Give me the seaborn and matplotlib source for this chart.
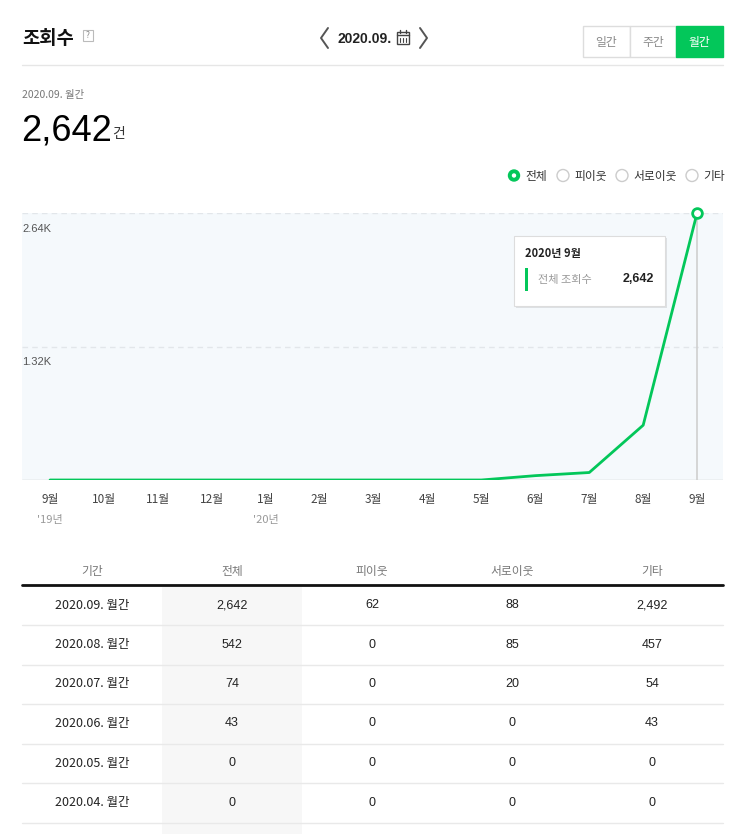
import numpy as np
import pandas as pd
import matplotlib
matplotlib.use("Agg")
import matplotlib.pyplot as plt
import matplotlib.patches as mpatches
import matplotlib.transforms as mtransforms
import seaborn as sns

# ---- data ----
months = ["9월", "10월", "11월", "12월", "1월", "2월", "3월", "4월", "5월", "6월", "7월", "8월", "9월"]
year_marks = {0: "'19년", 4: "'20년"}
total_views = [0, 0, 0, 0, 0, 0, 0, 0, 0, 43, 74, 542, 2642]
y_ticks = [1320, 2640]
y_tick_labels = ["1.32K", "2.64K"]

table_header = ["기간", "전체", "피이웃", "서로이웃", "기타"]
table_periods = ["2020.09. 월간", "2020.08. 월간", "2020.07. 월간",
                 "2020.06. 월간", "2020.05. 월간", "2020.04. 월간"]
table_total = ["2,642", "542", "74", "43", "0", "0"]
table_neighbor = ["62", "0", "0", "0", "0", "0"]
table_mutual = ["88", "85", "20", "0", "0", "0"]
table_other = ["2,492", "457", "54", "43", "0", "0"]

legend_items = ["전체", "피이웃", "서로이웃", "기타"]
period_buttons = ["일간", "주간", "월간"]

GREEN = "#03c75a"
KR = ["Noto Sans CJK KR", "DejaVu Sans"]
NUM = ["Liberation Sans", "Noto Sans CJK KR", "DejaVu Sans"]

sns.set_style("white")
plt.rcParams["font.family"] = KR

W, H = 743, 834
fig = plt.figure(figsize=(W / 100, H / 100), dpi=100)
fig.patch.set_facecolor("white")

# ---- chart ----
left, right, top_y, base_y = 22, 723, 213, 480
ax = fig.add_axes([left / W, (H - base_y) / H, (right - left) / W, (base_y - top_y) / H])
ax.set_facecolor("#f5f9fc")
df = pd.DataFrame({"idx": np.arange(len(months)), "views": total_views})
ax.axhline(0, color="#cccccc", lw=1, zorder=1)
for v in y_ticks:
    ax.axhline(v, color="#e2e6ea", lw=1, ls=(0, (4, 3)), zorder=1)
ax.vlines(df["idx"].iloc[-1], 0, df["views"].iloc[-1], color="#cfcfcf", lw=1.2, zorder=2)
sns.lineplot(data=df, x="idx", y="views", color=GREEN, lw=2, ax=ax, zorder=3)
ax.plot(df["idx"].iloc[-1], df["views"].iloc[-1], "o", ms=7, mfc="white", mec=GREEN,
        mew=2, zorder=4, clip_on=False)
ax.set_xlim(-0.52, 12.48)
ax.set_ylim(0, 2640)
ax.set_xticks(df["idx"])
ax.set_xticklabels(months, fontsize=8.5, color="#444444", family=KR)
ax.tick_params(axis="x", length=0, pad=9)
ax.set_yticks([])
ax.set_xlabel("")
ax.set_ylabel("")
for s in ax.spines.values():
    s.set_visible(False)
ytr = mtransforms.blended_transform_factory(ax.transAxes, ax.transData)
for v, lab in zip(y_ticks, y_tick_labels):
    ax.text(0.0, v - 105, lab, transform=ytr, ha="left", va="top", fontsize=8,
            color="#555555", family=NUM)
xtr = mtransforms.blended_transform_factory(ax.transData, ax.transAxes)
for i, lab in year_marks.items():
    ax.text(i, -0.13, lab, transform=xtr, ha="center", va="top", fontsize=8,
            color="#999999", family=KR, clip_on=False)

# ---- overlay for page elements (pixel coords) ----
ov = fig.add_axes([0, 0, 1, 1], facecolor="none")
ov.set_xlim(0, W)
ov.set_ylim(H, 0)
ov.axis("off")

# header
ov.text(22, 38, "조회수", fontsize=13.5, fontweight="bold", color="#111111", va="center")
ov.add_patch(mpatches.Rectangle((83, 30), 10, 11, fill=False, ec="#bbbbbb", lw=0.8))
ov.text(88, 35.5, "?", fontsize=6, color="#888888", ha="center", va="center")
ov.plot([328, 321, 328], [28, 38, 48], color="#555555", lw=1.4)
ov.plot([420, 427, 420], [28, 38, 48], color="#555555", lw=1.4)
ov.text(337, 38.5, "2020.09.", fontsize=10, fontweight="bold", color="#222222",
        va="center", family=NUM)
ov.add_patch(mpatches.Rectangle((397, 32), 12, 12, fill=False, ec="#444444", lw=1))
ov.plot([397, 409], [35, 35], color="#444444", lw=1)
for xx in (400, 403, 406):
    ov.plot([xx, xx], [37.5, 41.5], color="#444444", lw=0.8)
ov.plot([400, 400], [30, 33], color="#444444", lw=1)
ov.plot([406, 406], [30, 33], color="#444444", lw=1)

btn_x = [583, 630, 676, 723]
for i, lab in enumerate(period_buttons):
    active = i == len(period_buttons) - 1
    ov.add_patch(mpatches.Rectangle((btn_x[i], 26), btn_x[i + 1] - btn_x[i], 31,
                                    fc=GREEN if active else "white",
                                    ec=GREEN if active else "#dddddd", lw=1))
    ov.text((btn_x[i] + btn_x[i + 1]) / 2, 42, lab, fontsize=8.5, ha="center", va="center",
            color="white" if active else "#888888")
ov.plot([22, 723], [64.5, 64.5], color="#e6e6e6", lw=1)

ov.text(22, 95, "2020.09. 월간", fontsize=7.5, color="#777777", va="center", family=KR)
ov.text(21, 140, "2,642", fontsize=26, color="#000000", va="baseline", family=NUM)
ov.text(112, 138, "건", fontsize=10, color="#333333", va="baseline")

# legend radios
radio_x = [514, 563, 622, 692]
for i, lab in enumerate(legend_items):
    if i == 0:
        ov.add_patch(mpatches.Circle((radio_x[i], 175.5), 5.5, fc=GREEN, ec=GREEN))
        ov.add_patch(mpatches.Circle((radio_x[i], 175.5), 2.2, fc="white", ec="none"))
    else:
        ov.add_patch(mpatches.Circle((radio_x[i], 175.5), 6, fc="white", ec="#cccccc", lw=1))
    ov.text(radio_x[i] + 11, 176, lab, fontsize=8.5, color="#333333", va="center")

# tooltip
ov.add_patch(mpatches.Rectangle((516, 238), 151, 70, fc="#00000018", ec="none"))
ov.add_patch(mpatches.Rectangle((514, 236), 151, 70, fc="white", ec="#dddddd", lw=0.8))
ov.text(525, 253, "2020년 9월", fontsize=8, fontweight="bold", color="#222222", va="center")
ov.add_patch(mpatches.Rectangle((525, 268), 3, 23, fc=GREEN, ec="none"))
ov.text(538, 279.5, "전체 조회수", fontsize=8, color="#999999", va="center")
ov.text(654, 279.5, f"{total_views[-1]:,}", fontsize=9, fontweight="bold", color="#222222",
        ha="right", va="center", family=NUM)

# table
col_x = [92, 232, 372, 512, 652]
ov.add_patch(mpatches.Rectangle((162, 586), 140, 260, fc="#f7f7f7", ec="none", zorder=0))
for x, lab in zip(col_x, table_header):
    ov.text(x, 571, lab, fontsize=8.5, color="#777777", ha="center", va="center")
ov.plot([22, 723], [585, 585], color="#111111", lw=2)
row_y0, row_h = 605, 39.5
cols = [table_periods, table_total, table_neighbor, table_mutual, table_other]
for r in range(len(table_periods)):
    y = row_y0 + r * row_h
    for x, col in zip(col_x, cols):
        ov.text(x, y, col[r], fontsize=9, color="#222222", ha="center", va="center",
                family=KR if x == col_x[0] else NUM)
    ov.plot([22, 723], [y + 20, y + 20], color="#e9e9e9", lw=1)

fig.savefig("out.png", dpi=100, facecolor="white")
